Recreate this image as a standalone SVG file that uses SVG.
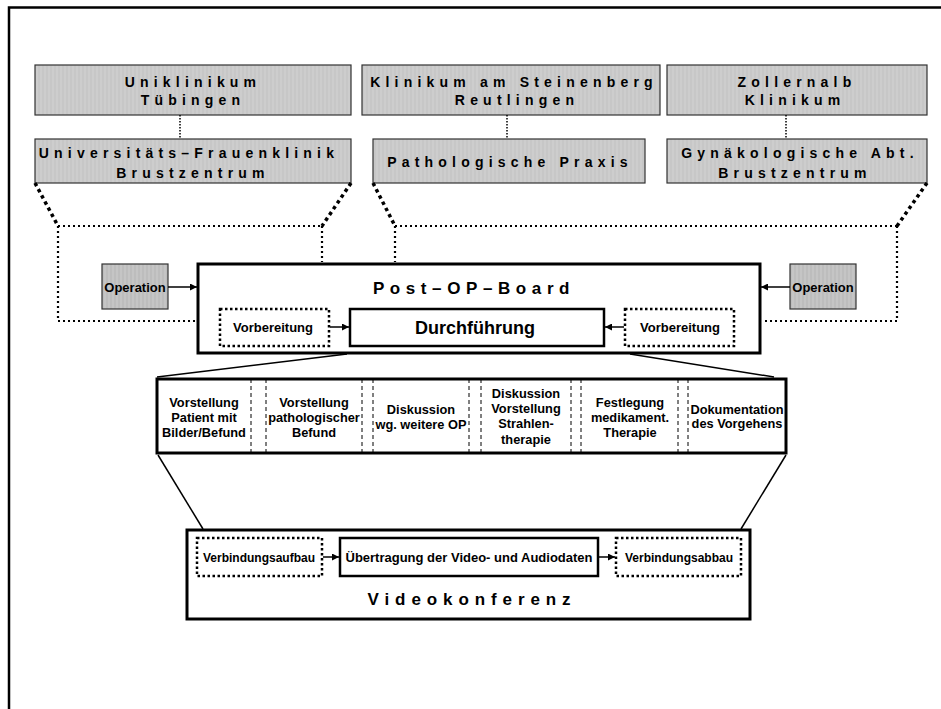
<svg xmlns="http://www.w3.org/2000/svg" width="941" height="709" viewBox="0 0 941 709">
<style>
.t{font-family:"Liberation Sans",Arial,sans-serif;font-weight:bold;fill:#000;text-anchor:middle}
.sp{font-size:14px;letter-spacing:5.2px}
.gray{fill:url(#stripes);stroke:#333;stroke-width:1.2}
.op{fill:url(#stripes2);stroke:#333;stroke-width:1.2}
.solid{fill:#fff;stroke:#000;stroke-width:3}
.dotbox{fill:#fff;stroke:#000;stroke-width:2.5;stroke-dasharray:2.5 2.5}
.thin{fill:none;stroke:#000;stroke-width:1.5;stroke-dasharray:1.5 1.5}
.thickdot{fill:none;stroke:#000;stroke-width:3.5;stroke-dasharray:3.5 3.5}
.meddot{fill:none;stroke:#000;stroke-width:2.2;stroke-dasharray:2 3}
.dash{fill:none;stroke:#000;stroke-width:1;stroke-dasharray:4 3}
.ln{fill:none;stroke:#000;stroke-width:1.5}
.s13{font-size:13px}
.s12{font-size:12px}
</style>
<defs>
<pattern id="stripes" width="4" height="4" patternUnits="userSpaceOnUse">
<rect width="4" height="4" fill="#c7c7c7"/>
<rect width="2" height="4" fill="#cdcdcd"/>
</pattern>
<pattern id="stripes2" width="4" height="4" patternUnits="userSpaceOnUse">
<rect width="4" height="4" fill="#bdbdbd"/>
<rect width="2" height="4" fill="#c5c5c5"/>
</pattern>
<marker id="ah" viewBox="0 0 10 10" refX="10" refY="5" markerWidth="7" markerHeight="7" markerUnits="userSpaceOnUse" orient="auto">
<path d="M0,0 L10,5 L0,10 z" fill="#000"/>
</marker>
</defs>
<path d="M9,709 V7.5 H941" fill="none" stroke="#000" stroke-width="2.5"/>

<g id="uniklinikum">
<rect class="gray" x="35" y="65" width="316" height="50"/>
<text class="t sp" x="193" y="87">Uniklinikum</text>
<text class="t sp" x="193" y="105">Tübingen</text>
</g>
<g id="frauenklinik">
<rect class="gray" x="35" y="139" width="316" height="44"/>
<text class="t sp" x="189" y="158">Universitäts–Frauenklinik</text>
<text class="t sp" x="193" y="178">Brustzentrum</text>
</g>
<g id="steinenberg">
<rect class="gray" x="362" y="65" width="298" height="50"/>
<text class="t sp" x="514" y="87">Klinikum am Steinenberg</text>
<text class="t sp" x="517" y="105">Reutlingen</text>
</g>
<g id="pathologie">
<rect class="gray" x="373" y="139" width="272" height="44"/>
<text class="t sp" x="510" y="167">Pathologische Praxis</text>
</g>
<g id="zollernalb">
<rect class="gray" x="667" y="65" width="260" height="50"/>
<text class="t sp" x="797" y="87">Zollernalb</text>
<text class="t sp" x="795" y="105">Klinikum</text>
</g>
<g id="gynaekologie">
<rect class="gray" x="667" y="139" width="260" height="44"/>
<text class="t sp" x="800" y="158">Gynäkologische Abt.</text>
<text class="t sp" x="795" y="178">Brustzentrum</text>
</g>

<g id="operation-left">
<rect class="op" x="102" y="264" width="66" height="45"/>
<text class="t s13" x="135" y="292">Operation</text>
</g>
<g id="operation-right">
<rect class="op" x="790" y="264" width="66" height="45"/>
<text class="t s13" x="823" y="292">Operation</text>
</g>

<g id="post-op-board">
<rect class="solid" x="198" y="264" width="562" height="89"/>
<text class="t" x="474" y="294" style="font-size:17px;letter-spacing:5.6px">Post–OP–Board</text>
</g>
<g id="vorbereitung-left">
<rect class="dotbox" x="220" y="309" width="109" height="37"/>
<text class="t s13" x="273" y="332">Vorbereitung</text>
</g>
<g id="durchfuehrung">
<rect class="solid" x="350" y="309" width="254" height="37" style="stroke-width:2.5"/>
<text class="t" x="475" y="334" style="font-size:18px">Durchführung</text>
</g>
<g id="vorbereitung-right">
<rect class="dotbox" x="625" y="309" width="109" height="37"/>
<text class="t s13" x="680" y="332">Vorbereitung</text>
</g>

<g id="steps">
<rect class="solid" x="157" y="379" width="629" height="74"/>
<line class="dash" x1="251" y1="379" x2="251" y2="453"/>
<line class="dash" x1="266" y1="379" x2="266" y2="453"/>
<line class="dash" x1="362" y1="379" x2="362" y2="453"/>
<line class="dash" x1="373" y1="379" x2="373" y2="453"/>
<line class="dash" x1="469" y1="379" x2="469" y2="453"/>
<line class="dash" x1="481" y1="379" x2="481" y2="453"/>
<line class="dash" x1="571" y1="379" x2="571" y2="453"/>
<line class="dash" x1="581" y1="379" x2="581" y2="453"/>
<line class="dash" x1="678" y1="379" x2="678" y2="453"/>
<line class="dash" x1="688" y1="379" x2="688" y2="453"/>
<g class="t" style="font-size:12.8px">
<text x="204" y="407">Vorstellung</text>
<text x="204" y="422">Patient mit</text>
<text x="204" y="437">Bilder/Befund</text>
<text x="314" y="407">Vorstellung</text>
<text x="314" y="422">pathologischer</text>
<text x="314" y="437">Befund</text>
<text x="421" y="414">Diskussion</text>
<text x="421" y="429">wg. weitere OP</text>
<text x="526" y="398">Diskussion</text>
<text x="526" y="413">Vorstellung</text>
<text x="526" y="428">Strahlen-</text>
<text x="526" y="444">therapie</text>
<text x="630" y="407">Festlegung</text>
<text x="630" y="422">medikament.</text>
<text x="630" y="437">Therapie</text>
<text x="737" y="414">Dokumentation</text>
<text x="737" y="428">des Vorgehens</text>
</g>
</g>

<g id="videokonferenz">
<rect class="solid" x="187" y="530" width="563" height="89"/>
<text class="t" x="472" y="605" style="font-size:17px;letter-spacing:5.9px">Videokonferenz</text>
</g>
<g id="verbindungsaufbau">
<rect class="dotbox" x="197" y="538" width="125" height="38"/>
<text class="t s12" x="259" y="562">Verbindungsaufbau</text>
</g>
<g id="uebertragung">
<rect class="solid" x="340" y="538" width="258" height="38" style="stroke-width:2.5"/>
<text class="t s13" x="469" y="562">Übertragung der Video- und Audiodaten</text>
</g>
<g id="verbindungsabbau">
<rect class="dotbox" x="616" y="538" width="125" height="38"/>
<text class="t s12" x="679" y="562">Verbindungsabbau</text>
</g>

<g id="connectors">
<line class="thin" x1="180" y1="115" x2="180" y2="139"/>
<line class="thin" x1="507" y1="115" x2="507" y2="139"/>
<line class="thin" x1="786" y1="115" x2="786" y2="139"/>
<path class="thickdot" d="M35,183 L58,226"/>
<path class="thickdot" d="M351,183 L322,226"/>
<path class="thickdot" d="M373,183 L395,226"/>
<path class="thickdot" d="M927,183 L897,226"/>
<path class="meddot" d="M58,226 H322 M322,226 V262 M58,226 V321 H196"/>
<path class="meddot" d="M395,226 H897 M395,226 V262 M897,226 V321 H762"/>
<line class="ln" x1="168" y1="287" x2="197" y2="287" marker-end="url(#ah)"/>
<line class="ln" x1="790" y1="287" x2="761" y2="287" marker-end="url(#ah)"/>
<line class="ln" x1="330" y1="327" x2="349" y2="327" marker-end="url(#ah)"/>
<line class="ln" x1="624" y1="327" x2="605" y2="327" marker-end="url(#ah)"/>
<line class="ln" x1="347" y1="354" x2="157" y2="377"/>
<line class="ln" x1="630" y1="354" x2="774" y2="377"/>
<line class="ln" x1="158" y1="455" x2="203" y2="529"/>
<line class="ln" x1="786" y1="455" x2="741" y2="529"/>
<line class="ln" x1="323" y1="557" x2="339" y2="557" marker-end="url(#ah)"/>
<line class="ln" x1="599" y1="557" x2="615" y2="557" marker-end="url(#ah)"/>
</g>
</svg>
